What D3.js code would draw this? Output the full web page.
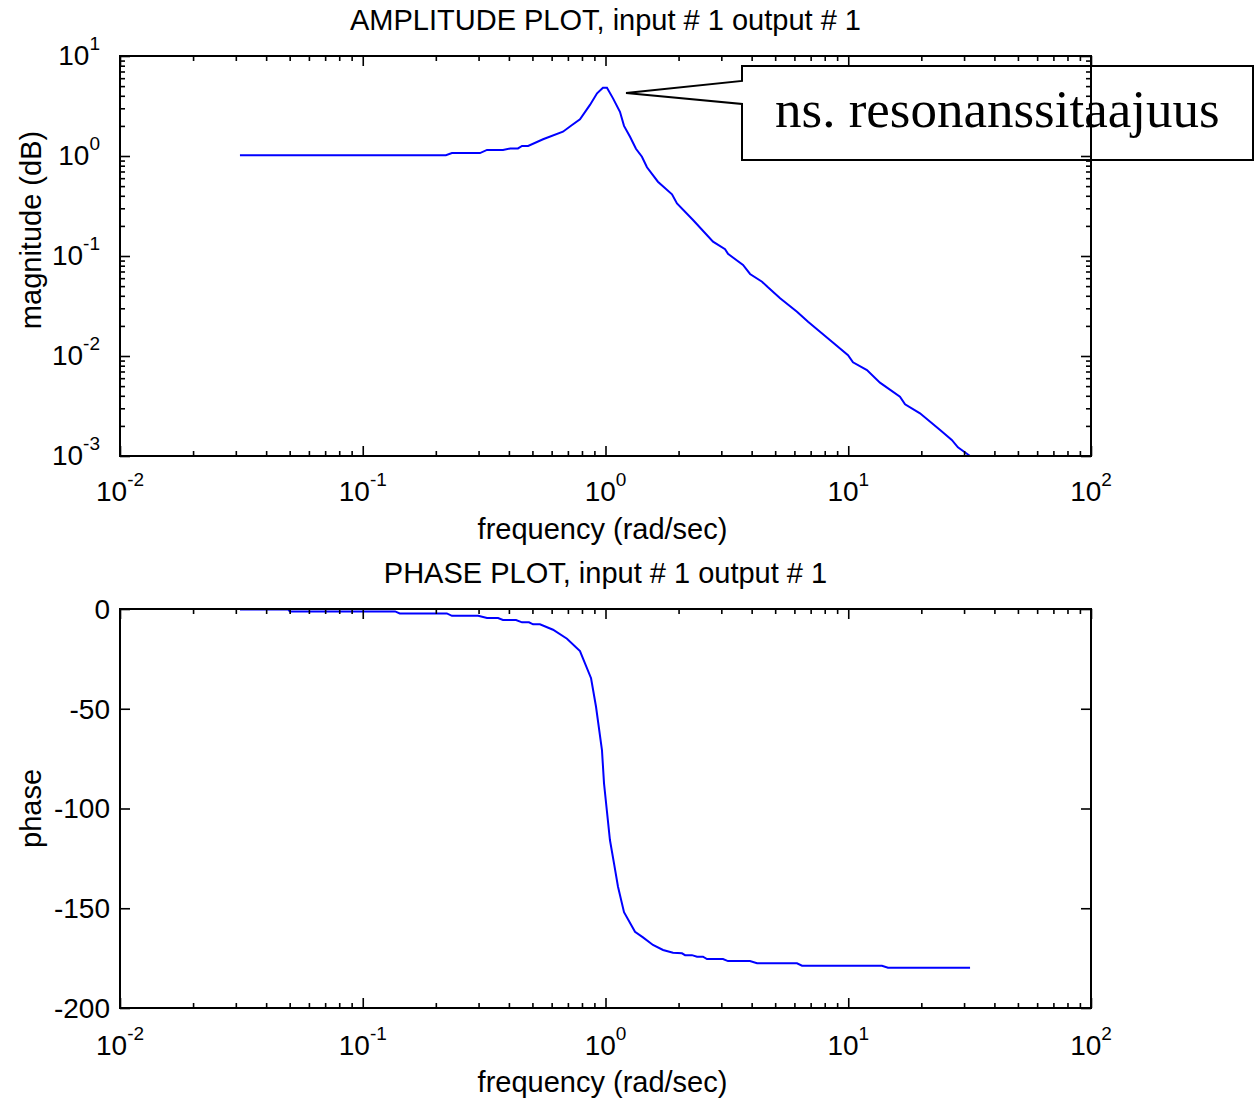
<!DOCTYPE html>
<html>
<head>
<meta charset="utf-8">
<script src="https://cdn.jsdelivr.net/npm/d3@7"></script>
<style>
  body { margin: 0; background: #fff; }
  svg { display: block; }
  text { font-family: "Liberation Sans", Arial, sans-serif; fill: #000; }
  .tick line { stroke: #000; stroke-width: 1.6; }
  .domain { display: none; }
</style>
</head>
<body>
<div id="graph"></div>
<script>
const width = 1257
const height = 1100

// values
const magFreq = [0.0312, 0.220, 0.233, 0.304, 0.325, 0.378, 0.405, 0.436, 0.453, 0.480, 0.553, 0.668, 0.728, 0.785, 0.863, 0.923, 0.976, 1.014, 1.074, 1.147, 1.192, 1.262, 1.335, 1.413, 1.482, 1.644, 1.879, 1.97, 2.294, 2.773, 3.108, 3.196, 3.686, 3.94, 4.414, 4.67, 5.24, 6.15, 6.83, 7.65, 8.57, 9.98, 10.46, 11.94, 13.51, 16.33, 17.14, 19.75, 23.9, 26.7, 28.3, 31.75]
const magnitude = [1.02, 1.02, 1.07, 1.07, 1.15, 1.15, 1.19, 1.19, 1.26, 1.26, 1.47, 1.75, 2.04, 2.33, 3.24, 4.24, 4.82, 4.82, 3.77, 2.77, 2.0, 1.56, 1.18, 0.984, 0.771, 0.553, 0.414, 0.336, 0.229, 0.139, 0.117, 0.105, 0.0813, 0.0661, 0.0553, 0.0486, 0.0378, 0.0277, 0.0220, 0.0175, 0.0139, 0.0102, 0.00865, 0.00724, 0.00541, 0.00392, 0.00329, 0.00267, 0.00182, 0.00145, 0.00122, 0.001]

const phaseFreq = [0.0312, 0.0492, 0.0501, 0.136, 0.142, 0.222, 0.233, 0.299, 0.325, 0.361, 0.378, 0.428, 0.453, 0.484, 0.503, 0.537, 0.608, 0.694, 0.785, 0.872, 0.914, 0.967, 0.986, 1.014, 1.043, 1.084, 1.126, 1.192, 1.323, 1.427, 1.569, 1.726, 1.897, 2.066, 2.127, 2.271, 2.382, 2.521, 2.618, 3.048, 3.196, 3.936, 4.21, 6.15, 6.45, 13.77, 14.58, 31.75]
const phase = [-0.2, -0.2, -1.2, -1.2, -2.2, -2.2, -3.4, -3.4, -4.5, -4.5, -5.5, -5.5, -6.7, -6.7, -7.7, -7.7, -10.4, -14.9, -21.1, -34.7, -49.0, -70.7, -87.4, -101.6, -115.8, -127.5, -139.2, -152.0, -161.8, -164.6, -168.4, -170.9, -172.3, -172.6, -173.5, -173.5, -174.3, -174.3, -175.5, -175.5, -176.5, -176.5, -177.6, -177.6, -178.8, -178.8, -179.8, -179.8]

const freqExps = [-2, -1, 0, 1, 2]
const magExps = [-3, -2, -1, 0, 1]
const phaseTicks = [0, -50, -100, -150, -200]

const ampTitle = 'AMPLITUDE PLOT, input # 1 output # 1'
const phaseTitle = 'PHASE PLOT, input # 1 output # 1'
const xLabel = 'frequency (rad/sec)'
const note = 'ns. resonanssitaajuus'
const notePoint = { f: 1.215, m: 4.27 }

const svg = d3.select('#graph').append('svg')
  .attr('width', width)
  .attr('height', height)

const left = 120
const right = 1091
const top1 = { y0: 56, y1: 456 }
const top2 = { y0: 609, y1: 1008 }

const xScale = d3.scaleLog().domain([0.01, 100]).range([left, right])
const yMag = d3.scaleLog().domain([0.001, 10]).range([top1.y1, top1.y0])
const yPhase = d3.scaleLinear().domain([-200, 0]).range([top2.y1, top2.y0])

// log minor ticks 2..9 per decade
const minorOf = (lo, hi) => {
  const out = []
  for (let e = lo; e < hi; e++) {
    for (let k = 2; k <= 9; k++) out.push(k * Math.pow(10, e))
  }
  return out
}
const xMajor = freqExps.map(e => Math.pow(10, e))
const xMinor = minorOf(-2, 2)
const magMajor = magExps.map(e => Math.pow(10, e))
const magMinor = minorOf(-3, 1)

const drawTicks = (g, axisFn, scale, values, size, tx, ty) => {
  g.append('g')
    .attr('transform', `translate(${tx},${ty})`)
    .call(axisFn(scale).tickValues(values).tickSize(size).tickSizeOuter(0).tickFormat(''))
}

const drawPanel = (yScale, box, yMajor, yMinor) => {
  const g = svg.append('g')
  // x ticks, bottom and top, pointing inward
  drawTicks(g, d3.axisBottom, xScale, xMajor, -10, 0, box.y1)
  drawTicks(g, d3.axisBottom, xScale, xMinor, -5, 0, box.y1)
  drawTicks(g, d3.axisTop, xScale, xMajor, -10, 0, box.y0)
  drawTicks(g, d3.axisTop, xScale, xMinor, -5, 0, box.y0)
  // y ticks, left and right
  drawTicks(g, d3.axisLeft, yScale, yMajor, -10, left, 0)
  drawTicks(g, d3.axisRight, yScale, yMajor, -10, right, 0)
  if (yMinor) {
    drawTicks(g, d3.axisLeft, yScale, yMinor, -5, left, 0)
    drawTicks(g, d3.axisRight, yScale, yMinor, -5, right, 0)
  }
  g.append('rect')
    .attr('x', left).attr('y', box.y0)
    .attr('width', right - left).attr('height', box.y1 - box.y0)
    .attr('fill', 'none').attr('stroke', '#000').attr('stroke-width', 2)
  return g
}

const powLabel = (g, x, y, exp, anchor) => {
  const t = g.append('text')
    .attr('x', x).attr('y', y)
    .attr('text-anchor', anchor)
    .style('font-size', '28px')
  t.append('tspan').text('10')
  t.append('tspan').attr('dy', -15).style('font-size', '19px').text(exp)
}

// ---------- amplitude panel ----------
const clip1 = svg.append('clipPath').attr('id', 'clip1')
clip1.append('rect').attr('x', left).attr('y', top1.y0)
  .attr('width', right - left).attr('height', top1.y1 - top1.y0 + 1)

// callout box (drawn first, axes drawn over it)
const tipX = xScale(notePoint.f)
const tipY = yMag(notePoint.m)
const bx0 = 742, bx1 = 1253, by0 = 66, by1 = 160
svg.append('path')
  .attr('d', `M${bx0},${tipY - 12} L${bx0},${by0} L${bx1},${by0} L${bx1},${by1} L${bx0},${by1} L${bx0},${tipY + 11} L${tipX},${tipY} Z`)
  .attr('fill', 'none').attr('stroke', '#000').attr('stroke-width', 2)
svg.append('text')
  .attr('x', 775).attr('y', 127)
  .style('font-family', '"Liberation Serif", "Times New Roman", serif')
  .style('font-size', '53px')
  .text(note)

svg.append('path')
  .datum(magFreq.map((f, i) => [f, magnitude[i]]))
  .attr('clip-path', 'url(#clip1)')
  .attr('fill', 'none')
  .attr('stroke', '#0000ff')
  .attr('stroke-width', 2)
  .attr('d', d3.line().x(d => xScale(d[0])).y(d => yMag(d[1])))

const p1 = drawPanel(yMag, top1, magMajor, magMinor)
freqExps.forEach(e => powLabel(p1, xScale(Math.pow(10, e)), top1.y1 + 45, e, 'middle'))
magExps.forEach(e => powLabel(p1, 100, yMag(Math.pow(10, e)) + 9, e, 'end'))

svg.append('text').attr('x', (left + right) / 2).attr('y', 30)
  .attr('text-anchor', 'middle').style('font-size', '29px').text(ampTitle)
svg.append('text').attr('x', (left + right) / 2 - 3).attr('y', 539)
  .attr('text-anchor', 'middle').style('font-size', '29px').text(xLabel)
svg.append('text')
  .attr('transform', 'translate(41,230) rotate(-90)')
  .attr('text-anchor', 'middle').style('font-size', '29px').text('magnitude (dB)')

// ---------- phase panel ----------
svg.append('path')
  .datum(phaseFreq.map((f, i) => [f, phase[i]]))
  .attr('fill', 'none')
  .attr('stroke', '#0000ff')
  .attr('stroke-width', 2)
  .attr('d', d3.line().x(d => xScale(d[0])).y(d => yPhase(d[1])))

const p2 = drawPanel(yPhase, top2, phaseTicks, null)
freqExps.forEach(e => powLabel(p2, xScale(Math.pow(10, e)), top2.y1 + 47, e, 'middle'))
phaseTicks.forEach(v => {
  p2.append('text')
    .attr('x', 110).attr('y', yPhase(v))
    .attr('dy', '0.35em')
    .attr('text-anchor', 'end')
    .style('font-size', '28px')
    .text(v)
})

svg.append('text').attr('x', (left + right) / 2).attr('y', 583)
  .attr('text-anchor', 'middle').style('font-size', '29px').text(phaseTitle)
svg.append('text').attr('x', (left + right) / 2 - 3).attr('y', 1092)
  .attr('text-anchor', 'middle').style('font-size', '29px').text(xLabel)
svg.append('text')
  .attr('transform', `translate(41,${(top2.y0 + top2.y1) / 2}) rotate(-90)`)
  .attr('text-anchor', 'middle').style('font-size', '29px').text('phase')
</script>
</body>
</html>
